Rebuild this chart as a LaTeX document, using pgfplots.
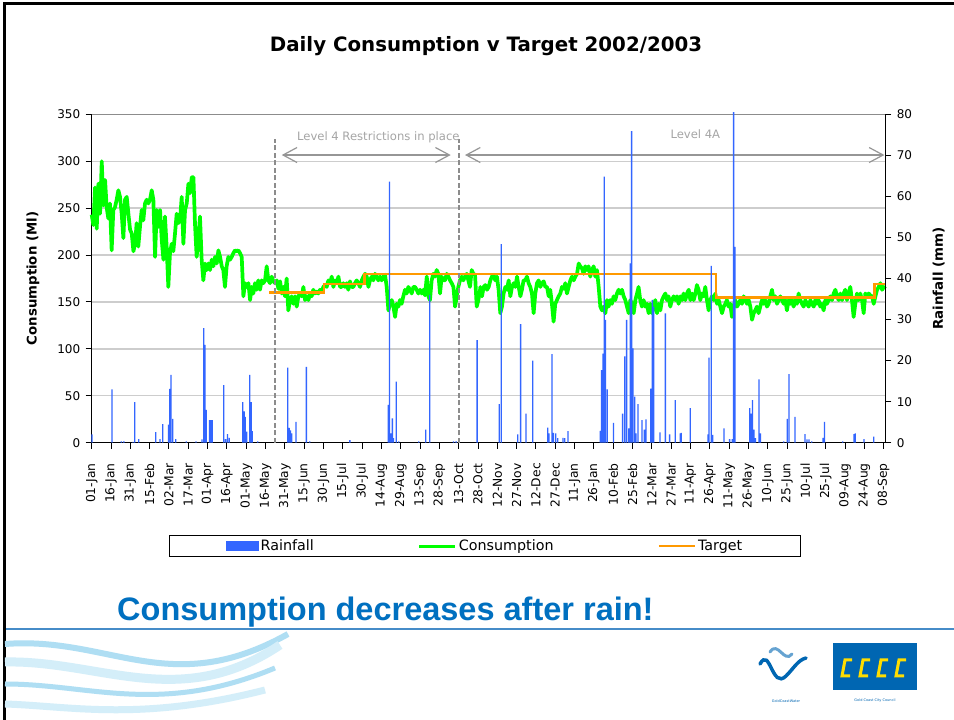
\documentclass[border=0pt]{standalone}
\usepackage{pgfplots}
\pgfplotsset{compat=1.18}
\usepackage{fontspec}
\setmainfont{DejaVu Sans}
\newfontfamily\arialfont{Liberation Sans}
\usetikzlibrary{arrows.meta}
\definecolor{barblue}{RGB}{51,102,255}
\definecolor{consgreen}{RGB}{0,255,0}
\definecolor{targorange}{RGB}{255,153,0}
\definecolor{msgblue}{RGB}{0,112,192}
\definecolor{rulecol}{RGB}{70,140,200}
\definecolor{wave1}{RGB}{175,222,243}
\definecolor{wave2}{RGB}{212,238,249}
\definecolor{annot}{RGB}{165,165,165}
\definecolor{dashcol}{RGB}{140,140,140}
\definecolor{arrowcol}{RGB}{150,150,150}
\definecolor{gridcol}{RGB}{205,205,205}
\definecolor{topcol}{RGB}{140,140,140}
\definecolor{gccblue}{RGB}{0,102,178}
\definecolor{gccyellow}{RGB}{255,221,0}
\begin{document}
\begin{tikzpicture}
\path[use as bounding box] (0,0) rectangle (954pt,720pt);
\fill[white] (0,0) rectangle (954pt,720pt);
\begin{scope}[x=1pt,y=-1pt,shift={(0pt,720pt)}]
  % slide frame
  \draw[black, line width=3pt] (4,720) -- (4,4) -- (954,4);
  % title
  \node[font=\bfseries\fontsize{19.8}{23}\selectfont] at (486,46) {Daily Consumption v Target 2002/2003};
  % message
  \node[anchor=base west, inner sep=0pt, text=msgblue, font=\arialfont\bfseries\fontsize{32.5}{39}\selectfont] at (117,621) {Consumption decreases after rain!};
  \draw[rulecol, line width=2pt] (6,629) -- (954,629);
  % waves
  \draw[wave1, line width=6pt] (5,644) .. controls (110,636) and (170,700) .. (288,634);
  \draw[wave2, line width=9pt] (5,662) .. controls (100,660) and (180,712) .. (280,645);
  \draw[wave1, line width=5pt] (5,684) .. controls (90,684) and (160,716) .. (275,668);
  \draw[wave2, line width=7pt] (5,704) .. controls (70,706) and (140,722) .. (265,690);
  % water logo
  \draw[gccblue, line width=3.5pt, line cap=round] (760,664) .. controls (770,646) and (772,690) .. (786,676) .. controls (794,668) and (798,660) .. (806,658);
  \draw[gccblue!60, line width=3pt, line cap=round] (770,652) .. controls (778,640) and (784,664) .. (792,654);
  \node[font=\fontsize{3.5}{4}\selectfont, text=gccblue] at (786,701) {GoldCoastWater};
  % council logo
  \fill[gccblue] (833,643) rectangle (917,690);
  \foreach \cx in {845,863,881,899} {
    \draw[gccyellow, line width=3pt] (\cx+7,660) -- (\cx,660) -- (\cx-3,676) -- (\cx+5,676);
  }
  \node[font=\fontsize{3.5}{4}\selectfont, text=gccblue] at (875,701) {Gold Coast City Council};
\end{scope}

\begin{axis}[
  at={(91.7pt,277.3pt)}, anchor=south west,
  scale only axis, width=793.6pt, height=328.4pt,
  xmin=0, xmax=616.3, ymin=0, ymax=350,
  clip=false,
  axis x line*=bottom, axis y line*=left,
  axis line style={line width=1.2pt, black, -},
  xtick={0,15,...,615},
  xticklabels={01-Jan,16-Jan,31-Jan,15-Feb,02-Mar,17-Mar,01-Apr,16-Apr,01-May,16-May,31-May,15-Jun,30-Jun,15-Jul,30-Jul,14-Aug,29-Aug,13-Sep,28-Sep,13-Oct,28-Oct,12-Nov,27-Nov,12-Dec,27-Dec,11-Jan,26-Jan,10-Feb,25-Feb,12-Mar,27-Mar,11-Apr,26-Apr,11-May,26-May,10-Jun,25-Jun,10-Jul,25-Jul,09-Aug,24-Aug,08-Sep},
  xticklabel style={rotate=90, anchor=east, font=\fontsize{12.3}{14}\selectfont},
  xticklabel shift=11pt,
  ytick={0,50,...,350},
  yticklabel style={font=\fontsize{12}{14}\selectfont},
  yticklabel shift=2pt,
  /pgf/number format/assume math mode=true,
  tick align=outside, major tick length=6pt,
  tick style={black, line width=1pt},
  ymajorgrids, grid style={color=gridcol, line width=1.3pt},
  every axis y label/.style={at={(axis description cs:-0.074,0.5)}, rotate=90, anchor=center, font=\bfseries\fontsize{13.3}{16}\selectfont},
  ylabel={Consumption (Ml)},
]
\draw[topcol, line width=1.5pt] (axis cs:0,350) -- (axis cs:616.3,350);
% Consumption
\addplot[consgreen, line width=3.7pt, line join=round, mark=none] coordinates {
(0.0,243) (1.3,232) (2.6,272) (3.9,228) (5.2,276) (6.5,244) (7.8,300) (9.1,253) (10.4,280) (11.6,251) (12.9,239) (14.2,255) (15.5,205) (16.8,248) (18.1,251) (19.4,259) (20.7,269) (22.0,262) (23.3,244) (24.6,218) (25.9,259) (27.2,262) (28.5,244) (29.8,227) (31.1,223) (32.4,204) (33.7,212) (34.9,234) (36.2,209) (37.5,230) (38.8,248) (40.1,237) (41.4,255) (42.7,259) (44.0,255) (45.3,259) (46.6,269) (47.9,259) (49.2,198) (50.5,248) (51.8,230) (53.1,248) (54.4,216) (55.7,195) (56.9,241) (58.2,209) (59.5,166) (60.8,202) (62.1,212) (63.4,204) (64.7,223) (66.0,244) (67.3,234) (68.6,237) (69.9,262) (71.2,212) (72.5,248) (73.8,255) (75.1,276) (76.4,266) (77.7,283) (79.0,283) (80.2,234) (81.5,198) (82.8,216) (84.1,241) (85.4,195) (86.7,173) (88.0,191) (89.3,184) (90.6,191) (91.9,184) (93.2,195) (94.5,188) (95.8,198) (97.1,191) (98.4,205) (99.7,198) (101.0,188) (102.2,184) (103.5,166) (104.8,188) (106.1,198) (107.4,195) (108.7,198) (110.0,202) (111.3,205) (112.6,204) (113.9,205) (115.2,202) (116.5,198) (117.8,156) (119.1,170) (120.4,166) (121.7,170) (123.0,152) (124.3,166) (125.5,159) (126.8,170) (128.1,163) (129.4,173) (130.7,163) (132.0,173) (133.3,170) (134.6,173) (135.9,188) (137.2,173) (138.5,170) (139.8,177) (141.1,172) (142.4,170) (143.7,173) (145.0,164) (146.3,172) (147.6,159) (148.8,166) (150.1,156) (151.4,175) (152.7,141) (154.0,152) (155.3,156) (156.6,148) (157.9,156) (159.2,145) (160.5,156) (161.8,159) (163.1,156) (164.4,166) (165.7,152) (167.0,156) (168.3,152) (169.6,159) (170.8,156) (172.1,163) (173.4,159) (174.7,161) (176.0,159) (177.3,163) (178.6,161) (179.9,166) (181.2,168) (182.5,166) (183.8,173) (185.1,170) (186.4,177) (187.7,166) (189.0,173) (190.3,170) (191.6,177) (192.9,166) (194.1,166) (195.4,170) (196.7,166) (198.0,170) (199.3,163) (200.6,172) (201.9,166) (203.2,166) (204.5,170) (205.8,173) (207.1,170) (208.4,166) (209.7,173) (211.0,177) (212.3,180) (213.6,177) (214.9,166) (216.1,173) (217.4,177) (218.7,173) (220.0,180) (221.3,177) (222.6,173) (223.9,177) (225.2,173) (226.5,177) (227.8,179) (229.1,166) (230.4,141) (231.7,148) (233.0,152) (234.3,145) (235.6,134) (236.9,148) (238.2,145) (239.4,152) (240.7,148) (242.0,156) (243.3,163) (244.6,159) (245.9,166) (247.2,163) (248.5,159) (249.8,166) (251.1,166) (252.4,163) (253.7,159) (255.0,163) (256.3,159) (257.6,163) (258.9,157) (260.2,177) (261.5,156) (262.7,152) (264.0,173) (265.3,180) (266.6,177) (267.9,184) (269.2,180) (270.5,159) (271.8,177) (273.1,173) (274.4,173) (275.7,180) (277.0,177) (278.3,173) (279.6,170) (280.9,166) (282.2,145) (283.5,156) (284.7,166) (286.0,173) (287.3,177) (288.6,173) (289.9,177) (291.2,180) (292.5,173) (293.8,166) (295.1,184) (296.4,180) (297.7,179) (299.0,145) (300.3,152) (301.6,163)
(301.8,166) (303.1,156) (304.4,166) (305.7,168) (307.0,163) (308.3,166) (309.6,173) (310.8,177) (312.1,179) (313.4,173) (314.7,177) (316.0,163) (317.3,138) (318.6,145) (319.9,159) (321.2,166) (322.5,163) (323.8,173) (325.1,156) (326.4,166) (327.7,170) (329.0,166) (330.3,177) (331.6,166) (332.9,156) (334.1,163) (335.4,173) (336.7,173) (338.0,177) (339.3,170) (340.6,166) (341.9,159) (343.2,138) (344.5,159) (345.8,170) (347.1,173) (348.4,166) (349.7,170) (351.0,172) (352.3,166) (353.6,166) (354.9,156) (356.1,163) (357.4,148) (358.7,129) (360.0,148) (361.3,152) (362.6,156) (363.9,159) (365.2,166) (366.5,164) (367.8,170) (369.1,159) (370.4,166) (371.7,173) (373.0,177) (374.3,173) (375.6,177) (376.9,180) (378.2,191) (379.4,188) (380.7,186) (382.0,180) (383.3,188) (384.6,184) (385.9,188) (387.2,177) (388.5,184) (389.8,188) (391.1,177) (392.4,184) (393.7,166) (395.0,145) (396.3,141) (397.6,145) (398.9,138) (400.2,152) (401.4,145) (402.7,152) (404.0,148) (405.3,156) (406.6,152) (407.9,159) (409.2,163) (410.5,159) (411.8,163) (413.1,156) (414.4,152) (415.7,145) (417.0,138) (418.3,152) (419.6,148) (420.9,138) (422.2,152) (423.5,159) (424.7,166) (426.0,152) (427.3,145) (428.6,152) (429.9,145) (431.2,148) (432.5,138) (433.8,148) (435.1,138) (436.4,145) (437.7,152) (439.0,138) (440.3,148) (441.6,141) (442.9,152) (444.2,156) (445.5,159) (446.8,152) (448.0,156) (449.3,145) (450.6,152) (451.9,156) (453.2,152) (454.5,156) (455.8,148) (457.1,156) (458.4,152) (459.7,159) (461.0,152) (462.3,159) (463.6,163) (464.9,152) (466.2,159) (467.5,152) (468.8,159) (470.0,168) (471.3,163) (472.6,152) (473.9,159) (475.2,156) (476.5,166) (477.8,152) (479.1,141) (480.4,152) (481.7,156) (483.0,152) (484.3,159) (485.6,148) (486.9,152) (488.2,145) (489.5,138) (490.8,145) (492.1,148) (493.3,152) (494.6,145) (495.9,148) (497.2,134) (498.5,145) (499.8,152) (501.1,145) (502.4,148) (503.7,152) (505.0,148) (506.3,156) (507.6,152) (508.9,148) (510.2,152) (511.5,145) (512.8,131) (514.1,138) (515.3,141) (516.6,145) (517.9,138) (519.2,145) (520.5,152) (521.8,148) (523.1,152) (524.4,145) (525.7,148) (527.0,156) (528.3,163) (529.6,152) (530.9,156) (532.2,148) (533.5,152) (534.8,156) (536.1,152) (537.4,148) (538.6,152) (539.9,141) (541.2,152) (542.5,148) (543.8,152) (545.1,145) (546.4,152) (547.7,148) (549.0,159) (550.3,152) (551.6,148) (552.9,145) (554.2,152) (555.5,148) (556.8,145) (558.1,152) (559.4,148) (560.7,145) (561.9,152) (563.2,148) (564.5,152) (565.8,145) (567.1,148) (568.4,141) (569.7,152) (571.0,148) (572.3,152) (573.6,156) (574.9,152) (576.2,159) (577.5,163) (578.8,156) (580.1,152) (581.4,159) (582.7,152) (583.9,159) (585.2,163) (586.5,152) (587.8,159) (589.1,166) (590.4,152) (591.7,134) (593.0,148) (594.3,159) (595.6,152) (596.9,159) (598.2,152) (599.5,138) (600.8,159) (602.1,156) (603.4,159) (604.7,157) (606.0,156) (607.3,148) (608.6,156) (609.9,163) (611.2,166) (612.5,170) (613.8,163) (615.1,166) (616.3,164)
};
% Target
\addplot[targorange, line width=2.5pt, mark=none] coordinates {
(137.9,160) (180.4,160) (180.4,169) (211.7,169) (211.7,180) (484.8,180) (484.8,154.5) (608,154.5) (608,169) (616.3,169)
};
% annotations
\draw[dashcol, line width=1.3pt, dash pattern=on 5pt off 2.5pt] (axis cs:142.4,0) -- (axis cs:142.4,324);
\draw[dashcol, line width=1.3pt, dash pattern=on 5pt off 2.5pt] (axis cs:285.3,0) -- (axis cs:285.3,324);
\draw[arrowcol, line width=1.2pt, {Straight Barb[length=14pt,width=15pt]}-{Straight Barb[length=14pt,width=15pt]}] (axis cs:147.6,306.6) -- (axis cs:278.8,306.6);
\draw[arrowcol, line width=1.2pt, {Straight Barb[length=14pt,width=15pt]}-{Straight Barb[length=14pt,width=15pt]}] (axis cs:289.9,306.6) -- (axis cs:615.6,306.6);
\node[text=annot, font=\fontsize{11.6}{14}\selectfont] at (axis cs:222.6,325.5) {Level 4 Restrictions in place};
\node[text=annot, font=\fontsize{11.6}{14}\selectfont] at (axis cs:468.8,328.7) {Level 4A};
\end{axis}

\begin{axis}[
  at={(91.7pt,277.3pt)}, anchor=south west,
  scale only axis, width=793.6pt, height=328.4pt,
  xmin=0, xmax=616.3, ymin=0, ymax=80,
  clip=false,
  axis x line=none, axis y line*=right,
  axis line style={line width=1.2pt, black, -},
  ytick={0,10,...,80},
  yticklabel style={font=\fontsize{12}{14}\selectfont},
  yticklabel shift=2pt,
  /pgf/number format/assume math mode=true,
  tick align=outside, major tick length=6pt,
  tick style={black, line width=1pt},
  every axis y label/.style={at={(axis description cs:1.0673,0.5)}, rotate=90, anchor=center, font=\bfseries\fontsize{13.4}{16}\selectfont},
  ylabel={Rainfall (mm)},
  legend columns=3,
  legend cell align=left,
  legend style={at={(0.4956,-0.3146)}, anchor=center, draw=black, line width=1pt, inner xsep=56pt, inner ysep=2.5pt, font=\fontsize{14.3}{17}\selectfont, /tikz/every even column/.append style={column sep=102pt}},
]
\addplot[ybar, bar width=1, fill=barblue, draw=none,
  legend image code/.code={\fill[barblue] (0pt,-5pt) rectangle (33pt,5pt);}] coordinates {
(0.3,2.0) (15.8,13.0) (23,0.3) (25,0.3) (32,0.2) (33.4,9.9) (36.5,0.9) (49.7,2.6) (53,0.9) (55.2,4.5) (59.6,4.4) (60.7,13.1) (61.6,16.5) (62.9,5.8) (65.3,0.9) (73.5,0.3) (81,0.3) (85.7,0.8) (87,27.9) (88,23.8) (88.9,8.0) (91.4,5.5) (92.5,5.5) (93.6,5.5) (102.6,14.0) (104,0.9) (105.4,2.1) (106.8,1.2) (117.3,9.9) (118.4,7.6) (119.3,6.3) (120.4,2.7) (122.8,16.5) (123.8,9.9) (124.7,2.8) (129,0.3) (152.3,18.3) (153.4,3.6) (154.4,3.0) (155.3,2.3) (158.6,5.1) (166.7,18.5) (169.3,0.3) (200.5,0.6) (230.4,9.2) (231.3,63.6) (232.4,2.3) (233.5,5.9) (234.4,1.1) (236.5,14.9) (238.5,0.3) (254,0.3) (259.4,3.2) (262.6,36.0) (281,0.3) (283,0.3) (299.3,25.0) (316.5,9.4) (318.1,48.4) (330.8,2.0) (333.1,28.9) (337.2,7.1) (342.5,20.0) (354.1,3.7) (355.1,2.3) (357.5,21.6) (358.7,2.4) (360.3,2.3) (361.9,1.1) (366,1.2) (367.3,1.1) (369.9,2.8) (395,2.9) (396,17.7) (397,21.7) (398,64.8) (399,29.9) (400.3,13.0) (405.2,4.8) (412.3,7.1) (413.9,21.0) (415.4,29.9) (417,3.5) (418.3,43.7) (419.3,75.9) (420.4,23.0) (421.7,11.2) (422.7,2.3) (424.2,9.4) (427.4,5.5) (429.2,3.2) (430.5,5.7) (434.1,13.2) (435.4,34.8) (436.4,33.1) (441.3,2.5) (445.5,31.5) (448.8,2.0) (453.2,10.4) (457.1,2.3) (457.9,2.4) (464.9,8.4) (478.6,2.0) (479.4,20.7) (481.2,43.1) (482.2,1.9) (491,3.5) (495.4,0.9) (497.5,0.9) (498.5,80.5) (499.6,47.7) (511,8.4) (512,7.1) (513.2,10.4) (514.3,3.2) (515.4,1.1) (518.2,15.4) (519.3,2.3) (537.4,0.3) (540.2,5.8) (541.5,16.7) (546.2,6.3) (554,2.1) (555.5,0.8) (557.1,0.8) (559.1,0.3) (568,1.2) (569,5.1) (583.2,0.3) (592,2.1) (593,2.3) (599.8,0.9) (607.3,1.5)
};
\addlegendentry{Rainfall}
\addlegendimage{legend image code/.code={\draw[consgreen, line width=3pt] (0pt,0pt) -- (36pt,0pt);}}
\addlegendentry{Consumption}
\addlegendimage{legend image code/.code={\draw[targorange, line width=2.5pt] (0pt,0pt) -- (36pt,0pt);}}
\addlegendentry{Target}
\end{axis}
\end{tikzpicture}
\end{document}
